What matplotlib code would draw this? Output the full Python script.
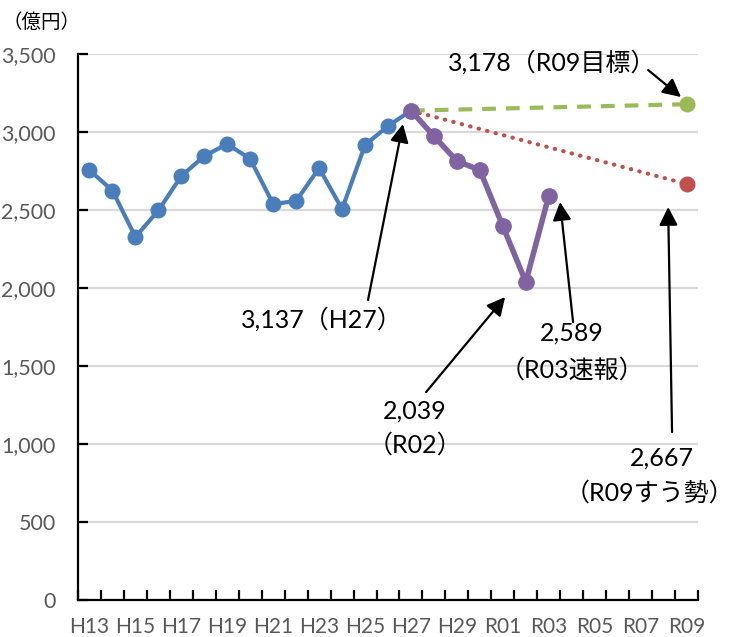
import matplotlib
matplotlib.use("Agg")
import matplotlib.pyplot as plt
import numpy as np

plt.rcParams["font.family"] = ["Lato", "Noto Sans CJK JP", "DejaVu Sans"]

# Fiscal years H13 (2001) .. R09 (2027)
years = [f"H{n}" for n in range(13, 31)] + [f"R{n:02d}" for n in range(1, 10)]

# Actual results H13..H27 (億円)
actual_values = [2755, 2625, 2327, 2497, 2718, 2846, 2923, 2827,
                 2538, 2558, 2769, 2506, 2917, 3038, 3137]
# Results after the H27 peak, H27..R03 (R03 preliminary)
recent_values = [3137, 2974, 2814, 2756, 2397, 2039, 2589]
# R09 target and trend projection
target_value = 3178
trend_value = 2667

tick_years = years[::2]
yticks = list(range(0, 3501, 500))

BLUE = "#4A7EBB"
PURPLE = "#8064A2"
GREEN = "#9BBB59"
RED = "#C0504D"
GRAY = "#595959"

fig = plt.figure(figsize=(7.38, 6.37), dpi=100)
ax = fig.add_axes([78 / 738, 37 / 637, 620 / 738, 546 / 637])

x = np.arange(len(years))
i_h27 = years.index("H27")
i_r03 = years.index("R03")
i_r09 = years.index("R09")

# Projection lines from H27 to R09
ax.plot([x[i_h27], x[i_r09]], [actual_values[-1], trend_value], color=RED,
        lw=3, linestyle=(0, (0.1, 2.0)), dash_capstyle="round", zorder=3)
ax.plot([x[i_h27], x[i_r09]], [actual_values[-1], target_value], color=GREEN,
        lw=3, linestyle=(0, (3.3, 2.4)), zorder=3)
ax.plot(x[i_r09], trend_value, "o", color=RED, ms=10.5, zorder=4)
ax.plot(x[i_r09], target_value, "o", color=GREEN, ms=10.5, zorder=4)

# Actual series
ax.plot(x[:i_h27 + 1], actual_values, "-o", color=BLUE, lw=3, ms=10.5, zorder=5)
ax.plot(x[i_h27:i_r03 + 1], recent_values, "-o", color=PURPLE, lw=4,
        ms=11, zorder=6)

# Axes styling
ax.set_xlim(-0.5, len(years) - 0.5)
ax.set_ylim(0, 3500)
ax.set_yticks(yticks)
ax.set_yticklabels([f"{v:,}" for v in yticks])
ax.set_xticks(np.arange(-0.5, len(years)))
ax.set_xticklabels([])
ax.set_xticks(x[::2], labels=tick_years, minor=True)
ax.tick_params(axis="x", which="major", direction="in", length=7, width=1.6,
               color="black")
ax.tick_params(axis="x", which="minor", length=0, pad=12, labelsize=15,
               labelcolor=GRAY)
ax.tick_params(axis="y", direction="in", length=7, width=1.6, pad=16,
               labelsize=15.5, labelcolor=GRAY)
ax.grid(axis="y", color="#D9D9D9", lw=1.6)
ax.set_axisbelow(True)
for s in ("top", "right"):
    ax.spines[s].set_visible(False)
for s in ("left", "bottom"):
    ax.spines[s].set_linewidth(1.6)
    ax.spines[s].set_color("black")

fig.text(42 / 738, 1 - 22 / 637, "（億円）", ha="center", va="center",
         fontsize=14, color="black")

arrow = dict(arrowstyle="-|>,head_length=0.55,head_width=0.28",
             color="black", lw=1.6, mutation_scale=20, shrinkA=0, shrinkB=0)
fs = 18

def label(xp, yp, s, ha="center"):
    ax.text(xp, yp, s, ha=ha, va="center", fontsize=fs, color="black",
            clip_on=False, zorder=7)

def pointer(tail, tip):
    ax.annotate("", xy=tip, xytext=tail, arrowprops=arrow, zorder=7,
                annotation_clip=False)

label(20.14, 3449, f"{target_value:,}（R09目標）")
pointer((24.33, 3397), (25.76, 3224))

label(10.13, 1801, f"{actual_values[-1]:,}（H27）")
pointer((12.13, 1923), (13.65, 3051))

label(14.18, 1212, f"{recent_values[5]:,}")
label(14.18, 994, "（R02）")
pointer((14.66, 1333), (18.1, 1942))

label(21.02, 1712, f"{recent_values[6]:,}")
label(21.02, 1474, "（R03速報）")
pointer((21.06, 1782), (20.49, 2551))

label(24.94, 910, f"{trend_value:,}")
label(28.1, 686, "（R09すう勢）", ha="right")
pointer((25.37, 1077), (25.2, 2519))

fig.savefig("out.png", dpi=100)
